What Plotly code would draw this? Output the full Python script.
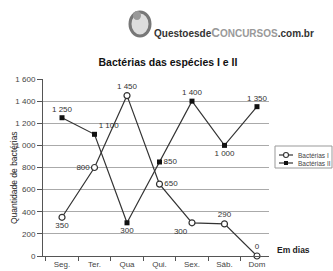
import plotly.graph_objects as go

days = ["Seg.", "Ter.", "Qua", "Qui.", "Sex.", "Sáb.", "Dom"]
bact_1 = [350, 800, 1450, 650, 300, 290, 0]
bact_2 = [1250, 1100, 300, 850, 1400, 1000, 1350]
y_ticks = [0, 200, 400, 600, 800, 1000, 1200, 1400, 1600]
series_names = ["Bactérias I", "Bactérias II"]

def fmt(v):
    return f"{v:,}".replace(",", " ")

pos_1 = ["bottom center", "middle left", "top center", "middle right",
         "bottom left", "top center", "top center"]
pos_2 = ["top center", "top right", "bottom center", "middle right",
         "top center", "bottom center", "top center"]

fig = go.Figure()
fig.add_trace(go.Scatter(
    x=days, y=bact_1, name=series_names[0], mode="lines+markers+text",
    text=[fmt(v) for v in bact_1], textposition=pos_1,
    textfont=dict(size=8, color="#333"),
    line=dict(color="#333", width=1.2),
    marker=dict(symbol="circle", size=6, color="white", line=dict(color="#333", width=1.2)),
    cliponaxis=False, showlegend=False,
))
fig.add_trace(go.Scatter(
    x=days, y=bact_2, name=series_names[1], mode="lines+markers+text",
    text=[fmt(v) for v in bact_2], textposition=pos_2,
    textfont=dict(size=8, color="#333"),
    line=dict(color="#333", width=1.2),
    marker=dict(symbol="square", size=5, color="#111"),
    cliponaxis=False, showlegend=False,
))

L, R, T, B = 43, 64, 79, 15
W, H = 333, 271
pw, ph = W - L - R, H - T - B

def px(x):
    return (x - L) / pw

def py(y):
    return (H - B - y) / ph

fig.update_layout(
    width=W, height=H,
    margin=dict(l=L, r=R, t=T, b=B, autoexpand=False),
    paper_bgcolor="white", plot_bgcolor="white",
    font=dict(family="Liberation Sans, Arial, sans-serif", color="#444", size=8.5),
    title=dict(text="<b>Bactérias das espécies I e II</b>", x=168 / W, xanchor="center",
               y=1 - 62 / H, yanchor="middle",
               font=dict(size=10.5, color="#111")),
    showlegend=False,
    xaxis=dict(type="category", range=[-0.585, 6.37], showgrid=False,
               showline=True, linecolor="#555", linewidth=1,
               ticks="outside", tickson="boundaries", ticklen=4, tickcolor="#555",
               tickfont=dict(size=8, color="#444")),
    yaxis=dict(range=[0, 1600], tickvals=y_ticks, ticktext=[fmt(v) for v in y_ticks],
               showgrid=True, gridcolor="#aaa", gridwidth=1,
               showline=True, linecolor="#555", linewidth=1,
               ticks="outside", ticklen=5, tickcolor="#555",
               tickfont=dict(size=8, color="#444"), zeroline=False),
)

# manual legend
fig.add_shape(type="rect", xref="paper", yref="paper",
              x0=px(275), x1=px(332), y0=py(168), y1=py(146),
              line=dict(color="#999", width=1), fillcolor="white")
for i, nm in enumerate(series_names):
    yy = 155 + i * 8
    fig.add_shape(type="line", xref="paper", yref="paper",
                  x0=px(279), x1=px(293), y0=py(yy), y1=py(yy),
                  line=dict(color="#333", width=1.2))
    if i == 0:
        fig.add_shape(type="circle", xref="paper", yref="paper",
                      x0=px(283.5), x1=px(288.5), y0=py(yy + 2.5), y1=py(yy - 2.5),
                      line=dict(color="#333", width=1.1), fillcolor="white")
    else:
        fig.add_shape(type="rect", xref="paper", yref="paper",
                      x0=px(284), x1=px(288), y0=py(yy + 2), y1=py(yy - 2),
                      line=dict(width=0), fillcolor="#111")
    fig.add_annotation(text=nm, xref="paper", yref="paper", x=px(296), y=py(yy),
                       xanchor="left", yanchor="middle", showarrow=False,
                       font=dict(size=6.5, color="#444"))

# axis titles
fig.add_annotation(text="Quantidade de bactérias", textangle=-90, xref="paper", yref="paper",
                   x=px(7), y=py(178), showarrow=False,
                   font=dict(size=8.5, color="#222"))
fig.add_annotation(text="<b>Em dias</b>", xref="paper", yref="paper",
                   x=px(275), y=py(257), xanchor="left", showarrow=False,
                   font=dict(size=8.5, color="#222"))

# logo
fig.add_shape(type="circle", xref="paper", yref="paper",
              x0=px(130), x1=px(150), y0=py(36), y1=py(12),
              line=dict(color="#777", width=3), fillcolor="#ddd")
fig.add_shape(type="circle", xref="paper", yref="paper",
              x0=px(133), x1=px(141), y0=py(20), y1=py(11),
              line=dict(width=0), fillcolor="#999")
fig.add_annotation(
    text="<b>Questoesde<span style='color:#999'><span style='font-size:12px'>C</span>ONCURSOS</span>.com.br</b>",
    xref="paper", yref="paper", x=px(152), y=py(33), xanchor="left", yanchor="middle",
    showarrow=False, font=dict(size=10, color="#333", family="Liberation Sans, Arial, sans-serif"))

fig.write_html("out.html")
